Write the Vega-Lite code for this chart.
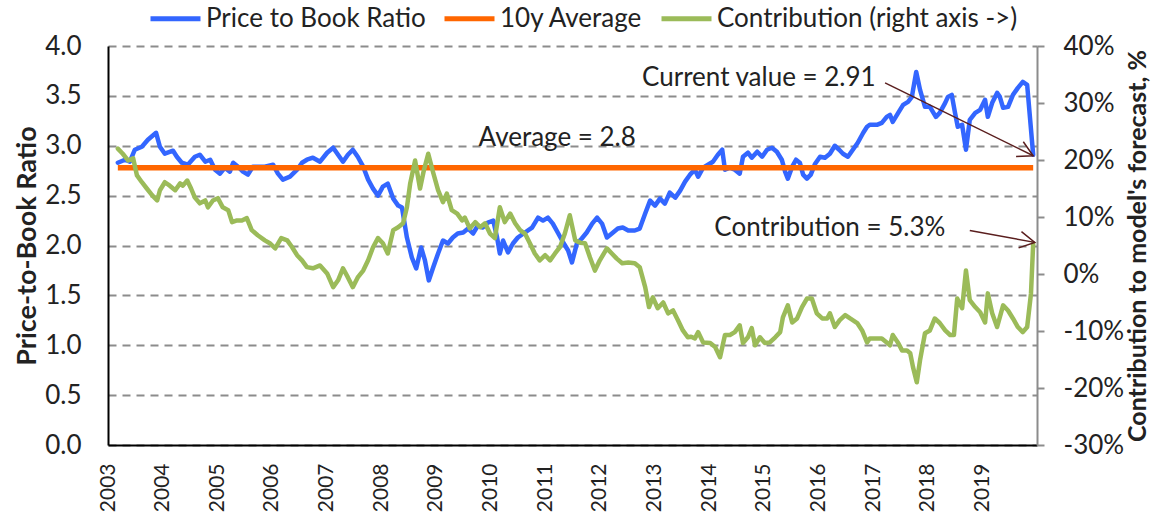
{
  "$schema": "https://vega.github.io/schema/vega-lite/v6.json",
  "width": 929,
  "height": 399,
  "autosize": {"type": "none"},
  "padding": {"left": 108, "top": 46, "right": 114, "bottom": 76},
  "background": "white",
  "config": {
    "font": "Lato",
    "view": {"stroke": null}
  },
  "datasets": {
    "pb": [
      {"t":2003.18,"v":2.83},{"t":2003.31,"v":2.86},{"t":2003.40,"v":2.84},{"t":2003.49,"v":2.96},{"t":2003.62,"v":2.99},{"t":2003.73,"v":3.06},{"t":2003.88,"v":3.13},{"t":2003.95,"v":2.99},{"t":2004.04,"v":2.92},{"t":2004.19,"v":2.95},{"t":2004.26,"v":2.89},{"t":2004.35,"v":2.83},{"t":2004.46,"v":2.81},{"t":2004.59,"v":2.89},{"t":2004.68,"v":2.91},{"t":2004.78,"v":2.84},{"t":2004.87,"v":2.86},{"t":2004.96,"v":2.76},{"t":2005.05,"v":2.72},{"t":2005.14,"v":2.78},{"t":2005.23,"v":2.74},{"t":2005.29,"v":2.83},{"t":2005.38,"v":2.79},{"t":2005.47,"v":2.74},{"t":2005.56,"v":2.71},{"t":2005.65,"v":2.79},{"t":2005.76,"v":2.79},{"t":2005.87,"v":2.79},{"t":2006.02,"v":2.81},{"t":2006.11,"v":2.72},{"t":2006.20,"v":2.66},{"t":2006.33,"v":2.69},{"t":2006.46,"v":2.76},{"t":2006.55,"v":2.83},{"t":2006.64,"v":2.86},{"t":2006.75,"v":2.88},{"t":2006.88,"v":2.84},{"t":2007.01,"v":2.93},{"t":2007.12,"v":2.98},{"t":2007.21,"v":2.91},{"t":2007.30,"v":2.84},{"t":2007.39,"v":2.91},{"t":2007.48,"v":2.96},{"t":2007.57,"v":2.89},{"t":2007.67,"v":2.79},{"t":2007.76,"v":2.66},{"t":2007.85,"v":2.57},{"t":2007.94,"v":2.50},{"t":2008.03,"v":2.59},{"t":2008.12,"v":2.62},{"t":2008.22,"v":2.47},{"t":2008.31,"v":2.40},{"t":2008.38,"v":2.38},{"t":2008.47,"v":2.08},{"t":2008.56,"v":1.88},{"t":2008.64,"v":1.77},{"t":2008.73,"v":1.98},{"t":2008.80,"v":1.85},{"t":2008.87,"v":1.65},{"t":2008.95,"v":1.78},{"t":2009.04,"v":1.92},{"t":2009.13,"v":2.05},{"t":2009.22,"v":2.02},{"t":2009.31,"v":2.08},{"t":2009.40,"v":2.12},{"t":2009.50,"v":2.13},{"t":2009.59,"v":2.17},{"t":2009.68,"v":2.12},{"t":2009.77,"v":2.20},{"t":2009.86,"v":2.18},{"t":2009.95,"v":2.23},{"t":2010.05,"v":2.25},{"t":2010.12,"v":2.08},{"t":2010.17,"v":1.92},{"t":2010.23,"v":2.05},{"t":2010.32,"v":1.93},{"t":2010.41,"v":2.02},{"t":2010.50,"v":2.08},{"t":2010.63,"v":2.13},{"t":2010.76,"v":2.18},{"t":2010.87,"v":2.28},{"t":2010.96,"v":2.25},{"t":2011.05,"v":2.28},{"t":2011.14,"v":2.22},{"t":2011.23,"v":2.13},{"t":2011.33,"v":2.03},{"t":2011.42,"v":1.95},{"t":2011.49,"v":1.83},{"t":2011.58,"v":2.02},{"t":2011.67,"v":2.07},{"t":2011.76,"v":2.13},{"t":2011.86,"v":2.22},{"t":2011.95,"v":2.28},{"t":2012.04,"v":2.22},{"t":2012.13,"v":2.08},{"t":2012.22,"v":2.12},{"t":2012.33,"v":2.17},{"t":2012.42,"v":2.18},{"t":2012.52,"v":2.15},{"t":2012.64,"v":2.15},{"t":2012.73,"v":2.17},{"t":2012.83,"v":2.32},{"t":2012.92,"v":2.45},{"t":2013.01,"v":2.40},{"t":2013.10,"v":2.47},{"t":2013.19,"v":2.42},{"t":2013.28,"v":2.53},{"t":2013.38,"v":2.48},{"t":2013.47,"v":2.55},{"t":2013.56,"v":2.64},{"t":2013.65,"v":2.71},{"t":2013.74,"v":2.76},{"t":2013.80,"v":2.69},{"t":2013.89,"v":2.78},{"t":2013.98,"v":2.81},{"t":2014.07,"v":2.84},{"t":2014.16,"v":2.91},{"t":2014.24,"v":2.96},{"t":2014.29,"v":2.76},{"t":2014.38,"v":2.78},{"t":2014.47,"v":2.76},{"t":2014.56,"v":2.72},{"t":2014.62,"v":2.89},{"t":2014.71,"v":2.93},{"t":2014.78,"v":2.88},{"t":2014.88,"v":2.94},{"t":2014.97,"v":2.89},{"t":2015.06,"v":2.96},{"t":2015.15,"v":2.98},{"t":2015.24,"v":2.94},{"t":2015.33,"v":2.86},{"t":2015.39,"v":2.74},{"t":2015.44,"v":2.67},{"t":2015.52,"v":2.79},{"t":2015.59,"v":2.86},{"t":2015.66,"v":2.83},{"t":2015.72,"v":2.71},{"t":2015.79,"v":2.67},{"t":2015.86,"v":2.71},{"t":2015.94,"v":2.82},{"t":2016.03,"v":2.89},{"t":2016.12,"v":2.88},{"t":2016.21,"v":2.92},{"t":2016.30,"v":3.00},{"t":2016.38,"v":2.96},{"t":2016.45,"v":2.92},{"t":2016.54,"v":2.89},{"t":2016.63,"v":2.96},{"t":2016.72,"v":3.03},{"t":2016.82,"v":3.13},{"t":2016.89,"v":3.19},{"t":2016.94,"v":3.21},{"t":2017.07,"v":3.21},{"t":2017.16,"v":3.23},{"t":2017.25,"v":3.29},{"t":2017.31,"v":3.31},{"t":2017.36,"v":3.24},{"t":2017.46,"v":3.33},{"t":2017.55,"v":3.41},{"t":2017.64,"v":3.44},{"t":2017.71,"v":3.49},{"t":2017.79,"v":3.74},{"t":2017.86,"v":3.56},{"t":2017.95,"v":3.39},{"t":2018.04,"v":3.39},{"t":2018.15,"v":3.29},{"t":2018.22,"v":3.33},{"t":2018.32,"v":3.43},{"t":2018.37,"v":3.49},{"t":2018.44,"v":3.51},{"t":2018.50,"v":3.33},{"t":2018.55,"v":3.19},{"t":2018.63,"v":3.21},{"t":2018.70,"v":2.96},{"t":2018.77,"v":3.26},{"t":2018.87,"v":3.33},{"t":2018.96,"v":3.36},{"t":2019.05,"v":3.46},{"t":2019.10,"v":3.29},{"t":2019.18,"v":3.43},{"t":2019.27,"v":3.53},{"t":2019.32,"v":3.49},{"t":2019.38,"v":3.38},{"t":2019.47,"v":3.39},{"t":2019.56,"v":3.51},{"t":2019.65,"v":3.58},{"t":2019.74,"v":3.64},{"t":2019.82,"v":3.61},{"t":2019.93,"v":2.91}
    ],
    "avg": [{"t":2003.18,"v":2.78},{"t":2019.93,"v":2.78}],
    "contrib": [
      {"t":2003.18,"v":22.0},{"t":2003.27,"v":21.1},{"t":2003.37,"v":19.9},{"t":2003.46,"v":20.3},{"t":2003.53,"v":17.3},{"t":2003.62,"v":16.1},{"t":2003.71,"v":15.0},{"t":2003.81,"v":13.8},{"t":2003.90,"v":12.9},{"t":2003.95,"v":14.7},{"t":2004.04,"v":16.1},{"t":2004.13,"v":15.5},{"t":2004.23,"v":14.7},{"t":2004.32,"v":15.9},{"t":2004.37,"v":15.5},{"t":2004.45,"v":16.4},{"t":2004.52,"v":15.0},{"t":2004.59,"v":13.4},{"t":2004.68,"v":12.4},{"t":2004.78,"v":12.9},{"t":2004.83,"v":11.7},{"t":2004.92,"v":12.9},{"t":2005.01,"v":13.3},{"t":2005.10,"v":11.7},{"t":2005.20,"v":11.2},{"t":2005.27,"v":9.1},{"t":2005.36,"v":9.4},{"t":2005.45,"v":9.4},{"t":2005.54,"v":9.8},{"t":2005.63,"v":7.7},{"t":2005.74,"v":6.8},{"t":2005.87,"v":5.9},{"t":2005.96,"v":5.4},{"t":2006.06,"v":4.5},{"t":2006.17,"v":6.3},{"t":2006.28,"v":5.9},{"t":2006.37,"v":4.7},{"t":2006.46,"v":3.3},{"t":2006.55,"v":2.4},{"t":2006.64,"v":1.2},{"t":2006.75,"v":1.0},{"t":2006.88,"v":1.5},{"t":2007.01,"v":0.1},{"t":2007.12,"v":-2.3},{"t":2007.21,"v":-1.1},{"t":2007.30,"v":1.0},{"t":2007.39,"v":-0.6},{"t":2007.48,"v":-2.3},{"t":2007.57,"v":-0.6},{"t":2007.67,"v":0.6},{"t":2007.76,"v":2.4},{"t":2007.85,"v":4.7},{"t":2007.94,"v":6.3},{"t":2008.03,"v":5.4},{"t":2008.12,"v":3.6},{"t":2008.22,"v":7.7},{"t":2008.31,"v":8.2},{"t":2008.40,"v":8.9},{"t":2008.47,"v":11.7},{"t":2008.53,"v":15.9},{"t":2008.62,"v":19.9},{"t":2008.71,"v":15.0},{"t":2008.78,"v":18.2},{"t":2008.86,"v":21.1},{"t":2008.95,"v":17.8},{"t":2009.04,"v":14.7},{"t":2009.13,"v":12.6},{"t":2009.20,"v":14.1},{"t":2009.29,"v":11.2},{"t":2009.39,"v":10.6},{"t":2009.48,"v":9.4},{"t":2009.53,"v":9.9},{"t":2009.62,"v":8.0},{"t":2009.72,"v":9.1},{"t":2009.81,"v":8.2},{"t":2009.90,"v":8.9},{"t":2009.99,"v":7.1},{"t":2010.08,"v":6.3},{"t":2010.17,"v":11.7},{"t":2010.26,"v":9.1},{"t":2010.36,"v":10.6},{"t":2010.45,"v":8.9},{"t":2010.54,"v":7.7},{"t":2010.63,"v":7.1},{"t":2010.72,"v":5.4},{"t":2010.81,"v":3.6},{"t":2010.90,"v":2.4},{"t":2011.00,"v":3.3},{"t":2011.09,"v":2.4},{"t":2011.18,"v":3.6},{"t":2011.27,"v":4.7},{"t":2011.36,"v":7.1},{"t":2011.45,"v":10.3},{"t":2011.55,"v":5.9},{"t":2011.64,"v":5.5},{"t":2011.73,"v":5.4},{"t":2011.82,"v":2.9},{"t":2011.91,"v":0.6},{"t":2012.00,"v":2.4},{"t":2012.13,"v":4.5},{"t":2012.22,"v":3.6},{"t":2012.31,"v":2.7},{"t":2012.41,"v":1.9},{"t":2012.52,"v":2.0},{"t":2012.64,"v":1.9},{"t":2012.73,"v":1.2},{"t":2012.83,"v":-2.3},{"t":2012.90,"v":-5.8},{"t":2012.97,"v":-4.1},{"t":2013.06,"v":-6.0},{"t":2013.16,"v":-5.0},{"t":2013.25,"v":-6.9},{"t":2013.34,"v":-6.4},{"t":2013.43,"v":-8.1},{"t":2013.52,"v":-9.9},{"t":2013.61,"v":-11.1},{"t":2013.67,"v":-11.0},{"t":2013.74,"v":-11.3},{"t":2013.80,"v":-10.2},{"t":2013.89,"v":-12.0},{"t":2014.02,"v":-12.1},{"t":2014.11,"v":-12.8},{"t":2014.20,"v":-14.6},{"t":2014.29,"v":-10.7},{"t":2014.38,"v":-10.7},{"t":2014.47,"v":-10.2},{"t":2014.56,"v":-9.0},{"t":2014.62,"v":-12.1},{"t":2014.71,"v":-11.1},{"t":2014.78,"v":-9.5},{"t":2014.84,"v":-12.5},{"t":2014.93,"v":-11.1},{"t":2015.02,"v":-12.1},{"t":2015.11,"v":-12.0},{"t":2015.21,"v":-11.1},{"t":2015.30,"v":-10.2},{"t":2015.35,"v":-7.6},{"t":2015.44,"v":-5.5},{"t":2015.52,"v":-8.5},{"t":2015.61,"v":-7.8},{"t":2015.70,"v":-5.8},{"t":2015.79,"v":-4.3},{"t":2015.88,"v":-4.3},{"t":2015.97,"v":-6.9},{"t":2016.07,"v":-7.8},{"t":2016.16,"v":-7.8},{"t":2016.21,"v":-6.9},{"t":2016.30,"v":-9.3},{"t":2016.39,"v":-8.1},{"t":2016.49,"v":-7.2},{"t":2016.58,"v":-7.8},{"t":2016.71,"v":-8.6},{"t":2016.80,"v":-9.9},{"t":2016.89,"v":-12.0},{"t":2016.94,"v":-11.3},{"t":2017.07,"v":-11.3},{"t":2017.16,"v":-11.3},{"t":2017.25,"v":-12.0},{"t":2017.31,"v":-12.5},{"t":2017.36,"v":-10.7},{"t":2017.46,"v":-12.1},{"t":2017.53,"v":-13.4},{"t":2017.62,"v":-13.4},{"t":2017.68,"v":-13.9},{"t":2017.73,"v":-16.3},{"t":2017.80,"v":-19.0},{"t":2017.86,"v":-15.1},{"t":2017.95,"v":-10.4},{"t":2018.04,"v":-9.9},{"t":2018.13,"v":-7.8},{"t":2018.22,"v":-8.6},{"t":2018.32,"v":-9.9},{"t":2018.41,"v":-10.7},{"t":2018.48,"v":-10.7},{"t":2018.54,"v":-4.3},{"t":2018.63,"v":-6.0},{"t":2018.70,"v":0.6},{"t":2018.77,"v":-4.6},{"t":2018.87,"v":-5.8},{"t":2018.96,"v":-6.7},{"t":2019.05,"v":-8.5},{"t":2019.10,"v":-3.4},{"t":2019.18,"v":-6.9},{"t":2019.27,"v":-9.3},{"t":2019.38,"v":-5.5},{"t":2019.47,"v":-6.4},{"t":2019.56,"v":-7.8},{"t":2019.65,"v":-9.3},{"t":2019.74,"v":-10.2},{"t":2019.82,"v":-9.3},{"t":2019.89,"v":-3.4},{"t":2019.93,"v":5.3}
    ],
    "noteL": [
      {"t":2011.22,"v":3.08,"label":"Average = 2.8"},
      {"t":2014.91,"v":3.68,"label":"Current value = 2.91"}
    ],
    "arrowL": [{"t":2017.22,"v":3.63},{"t":2019.93,"v":2.9}],
    "headL": [{"t":2019.93,"v":2.9}],
    "noteR": [{"t":2016.21,"v":8.0,"label":"Contribution = 5.3%"}],
    "arrowR": [{"t":2018.77,"v":7.65},{"t":2019.96,"v":5.55}],
    "headR": [{"t":2019.96,"v":5.55}]
  },
  "encoding": {
    "x": {
      "field": "t", "type": "quantitative",
      "scale": {"domain": [2003, 2020], "nice": false, "zero": false},
      "axis": {
        "values": [2003,2004,2005,2006,2007,2008,2009,2010,2011,2012,2013,2014,2015,2016,2017,2018,2019],
        "format": "d", "title": null, "labelAngle": 270,
        "labelFontSize": 21, "labelPadding": 18, "labelColor": "#222",
        "ticks": false, "grid": false, "domainColor": "#000", "domainWidth": 2
      }
    }
  },
  "layer": [
    {
      "data": {"name": "pb"},
      "mark": {"type": "line", "strokeWidth": 4.5, "strokeJoin": "round", "strokeCap": "round"},
      "encoding": {
        "y": {
          "field": "v", "type": "quantitative",
          "scale": {"domain": [0, 4], "nice": false, "zero": false},
          "axis": {
            "values": [0,0.5,1,1.5,2,2.5,3,3.5,4], "format": ".1f",
            "title": "Price-to-Book Ratio", "titleFontSize": 27, "titleFontWeight": "bold", "titlePadding": 3, "titleColor": "#222",
            "labelFontSize": 26, "labelPadding": 27, "labelColor": "#222", "ticks": false,
            "domainColor": "#000", "domainWidth": 2,
            "grid": true, "gridColor": "#8c8c8c", "gridDash": [8, 6], "gridWidth": 2
          }
        },
        "color": {
          "datum": "Price to Book Ratio", "type": "nominal",
          "scale": {"domain": ["Price to Book Ratio", "10y Average", "Contribution (right axis ->)"], "range": ["#3366ff", "#ff6600", "#9bbb59"]},
          "legend": {
            "orient": "none", "legendX": 40, "legendY": -55, "direction": "horizontal", "title": null,
            "symbolType": "stroke", "symbolSize": 2500, "symbolStrokeWidth": 5,
            "labelFontSize": 26, "labelFont": "Lato", "labelColor": "#222", "labelLimit": 500,
            "columnPadding": 8, "labelOffset": 3
          }
        }
      }
    },
    {
      "data": {"name": "avg"},
      "mark": {"type": "line", "strokeWidth": 5.5},
      "encoding": {
        "y": {"field": "v", "type": "quantitative", "scale": {"domain": [0, 4], "nice": false, "zero": false}, "axis": null},
        "color": {"datum": "10y Average", "type": "nominal"}
      }
    },
    {
      "data": {"name": "contrib"},
      "mark": {"type": "line", "strokeWidth": 4.5, "strokeJoin": "round", "strokeCap": "round"},
      "encoding": {
        "y": {
          "field": "v", "type": "quantitative",
          "scale": {"domain": [-30, 40], "nice": false, "zero": false},
          "axis": {
            "orient": "right", "values": [-30,-20,-10,0,10,20,30,40], "labelExpr": "datum.value + '%'",
            "title": "Contribution to model's forecast, %", "titleAngle": 270, "titleBaseline": "top",
            "titleFontSize": 25, "titleFontWeight": "bold", "titlePadding": 2, "titleColor": "#222",
            "labelFontSize": 26, "labelPadding": 19, "labelColor": "#222", "ticks": true, "tickSize": 7, "tickColor": "#8c8c8c", "tickWidth": 2,
            "domainColor": "#8c8c8c", "domainWidth": 2, "grid": false
          }
        },
        "color": {"datum": "Contribution (right axis ->)", "type": "nominal"}
      }
    },
    {
      "data": {"name": "noteL"},
      "mark": {"type": "text", "font": "Lato", "fontSize": 26, "color": "#222", "align": "center", "baseline": "middle"},
      "encoding": {
        "y": {"field": "v", "type": "quantitative", "scale": {"domain": [0, 4], "nice": false, "zero": false}, "axis": null},
        "text": {"field": "label"}
      }
    },
    {
      "data": {"name": "arrowL"},
      "mark": {"type": "line", "color": "#5a1e1e", "strokeWidth": 1.5},
      "encoding": {
        "y": {"field": "v", "type": "quantitative", "scale": {"domain": [0, 4], "nice": false, "zero": false}, "axis": null}
      }
    },
    {
      "data": {"name": "headL"},
      "mark": {"type": "point", "shape": "M-1,-0.55L0,0L-1,0.55", "filled": false, "stroke": "#5a1e1e", "strokeWidth": 1.5, "size": 900, "angle": 26, "opacity": 1},
      "encoding": {
        "y": {"field": "v", "type": "quantitative", "scale": {"domain": [0, 4], "nice": false, "zero": false}, "axis": null}
      }
    },
    {
      "data": {"name": "noteR"},
      "mark": {"type": "text", "font": "Lato", "fontSize": 26, "color": "#222", "align": "center", "baseline": "middle"},
      "encoding": {
        "y": {"field": "v", "type": "quantitative", "scale": {"domain": [-30, 40], "nice": false, "zero": false}, "axis": null},
        "text": {"field": "label"}
      }
    },
    {
      "data": {"name": "arrowR"},
      "mark": {"type": "line", "color": "#5a1e1e", "strokeWidth": 1.5},
      "encoding": {
        "y": {"field": "v", "type": "quantitative", "scale": {"domain": [-30, 40], "nice": false, "zero": false}, "axis": null}
      }
    },
    {
      "data": {"name": "headR"},
      "mark": {"type": "point", "shape": "M-1,-0.55L0,0L-1,0.55", "filled": false, "stroke": "#5a1e1e", "strokeWidth": 1.5, "size": 900, "angle": 10, "opacity": 1},
      "encoding": {
        "y": {"field": "v", "type": "quantitative", "scale": {"domain": [-30, 40], "nice": false, "zero": false}, "axis": null}
      }
    }
  ],
  "resolve": {"scale": {"y": "independent"}}
}
